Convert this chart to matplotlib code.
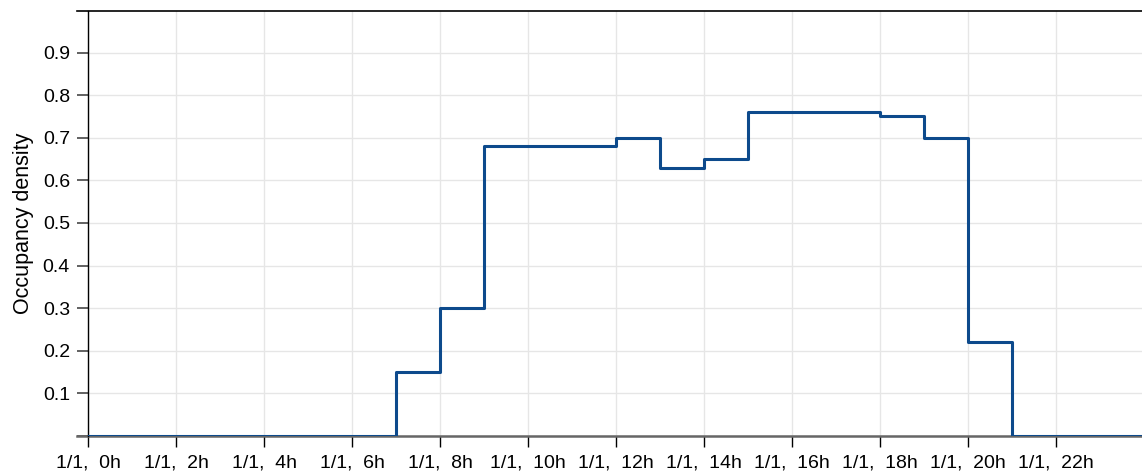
import matplotlib
matplotlib.use("Agg")
import matplotlib.pyplot as plt

# hourly occupancy schedule (value holds from hour i to i+1)
hours = list(range(25))
density = [0, 0, 0, 0, 0, 0, 0, 0.15, 0.30, 0.68, 0.68, 0.68,
           0.70, 0.63, 0.65, 0.76, 0.76, 0.76, 0.75, 0.70, 0.22, 0, 0, 0]
tick_hours = list(range(0, 24, 2))
tick_labels = ["1/1,  %dh" % h for h in tick_hours]
y_ticks = [0, 0.1, 0.2, 0.3, 0.4, 0.5, 0.6, 0.7, 0.8, 0.9]

plt.rcParams["font.family"] = ["Liberation Sans", "DejaVu Sans"]

W, H = 1142, 475
fig = plt.figure(figsize=(W / 100, H / 100), dpi=100)
ax = fig.add_axes([88 / W, (H - 436) / H, 1054 / W, 425 / H])

ax.step(hours, density + [density[-1]], where="post", color="#0d4a8c", lw=2.2, zorder=3)

ax.set_xlim(0, 1054 / 44)
ax.set_ylim(0, 425 / 42.6 / 10)
ax.set_xticks(tick_hours)
ax.set_xticklabels(tick_labels)
ax.set_yticks(y_ticks)
ax.set_yticklabels([""] + ["%.1f" % v for v in y_ticks[1:]])
ax.grid(True, color="#e6e6e6", lw=1)
ax.set_axisbelow(True)

for s in ["right", "bottom", "top"]:
    ax.spines[s].set_visible(False)
ax.spines["left"].set_color("black")
ax.spines["left"].set_linewidth(1)

ax.tick_params(axis="y", length=8, width=1.3, color="#555555", pad=5, labelsize=14)
ax.tick_params(axis="x", length=8, width=1, color="black", pad=5, labelsize=14)

# top border and zero line, both reaching out to the tick ends
ax.plot([-0.0104, 1], [1, 1], transform=ax.transAxes, color="black", lw=1.2, clip_on=False)
ax.plot([-0.0104, 1], [0, 0], transform=ax.transAxes, color="#666666", lw=1.8, clip_on=False, zorder=2)

ax.set_ylabel("Occupancy density", fontsize=15.5, labelpad=6)

fig.savefig("out.png", dpi=100)
